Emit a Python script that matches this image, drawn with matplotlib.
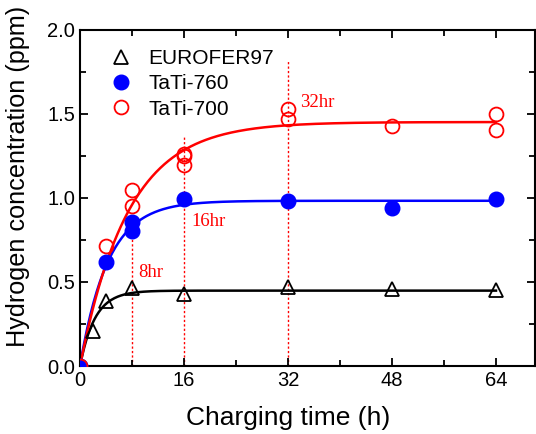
import numpy as np
from matplotlib import pyplot as plt

plt.rcParams['font.family'] = ['Liberation Sans', 'DejaVu Sans']

# measured hydrogen content vs charging time
t_euro = [2, 4, 8, 16, 32, 48, 64]
h_euro = [0.21, 0.385, 0.465, 0.427, 0.47, 0.458, 0.45]

t_760 = [0, 4, 8, 8, 16, 32, 48, 64]
h_760 = [0.0, 0.616, 0.80, 0.855, 0.99, 0.983, 0.937, 0.995]

t_700 = [0, 4, 8, 8, 16, 16, 16, 32, 32, 48, 64, 64]
h_700 = [0.0, 0.716, 0.953, 1.048, 1.193, 1.247, 1.263, 1.47, 1.527, 1.426, 1.50, 1.40]

# saturation fits: c(t) = c_sat * (1 - exp(-t / tau))
c_sat_euro, tau_euro = 0.448, 2.3
c_sat_760, tau_760 = 0.982, 4.3
c_sat_700, tau_700 = 1.45, 7.4

# saturation markers
mark_t = [8, 16, 32]
mark_top = [0.83, 1.37, 1.82]
mark_txt = ['8hr', '16hr', '32hr']
mark_txt_pos = [(8.9, 0.558), (17.2, 0.856), (33.9, 1.566)]


def fit(t, c_sat, tau):
    return c_sat * (1 - np.exp(-t / tau))


fig = plt.figure(figsize=(5.36, 4.34), dpi=100)
ax = fig.add_axes([80 / 536, 1 - 366 / 434, 455 / 536, (366 - 29.5) / 434])

tt = np.linspace(0, 64, 400)

for x, top in zip(mark_t, mark_top):
    ax.plot([x, x], [0, top], color='red', ls=(0, (1.6, 1.6)), lw=1.0, zorder=1)
for s, (x, y) in zip(mark_txt, mark_txt_pos):
    ax.text(x, y, s, color='red', fontsize=13.5, family='Liberation Serif',
            va='center', ha='left')

ax.plot(tt, fit(tt, c_sat_euro, tau_euro), color='black', lw=1.8, zorder=2)
ax.plot(tt, fit(tt, c_sat_760, tau_760), color='blue', lw=1.8, zorder=2)
ax.plot(tt, fit(tt, c_sat_700, tau_700), color='red', lw=1.8, zorder=2)

ax.plot(t_euro, h_euro, ls='none', marker='^', ms=10.5, mfc='none', mec='black',
        mew=1.3, label='EUROFER97', zorder=3)
ax.plot(t_760, h_760, ls='none', marker='o', ms=10.5, mfc='blue', mec='blue',
        label='TaTi-760', zorder=3)
ax.plot(t_700, h_700, ls='none', marker='o', ms=10, mfc='none', mec='red',
        mew=1.3, label='TaTi-700', zorder=4)

ax.set_xlim(0, 70)
ax.set_ylim(0, 2.0)
ax.set_xticks([0, 16, 32, 48, 64])
ax.set_xticks([8, 24, 40, 56], minor=True)
ax.set_yticks([0, 0.5, 1.0, 1.5, 2.0])
ax.set_yticks([0.25, 0.75, 1.25, 1.75], minor=True)
ax.yaxis.set_major_formatter(plt.FormatStrFormatter('%.1f'))
ax.tick_params(which='both', direction='in', top=True, right=True, width=1.3,
               labelsize=14.5)
ax.tick_params(which='major', length=6)
ax.tick_params(which='minor', length=4)
for sp in ax.spines.values():
    sp.set_linewidth(1.5)

ax.set_xlabel('Charging time (h)', fontsize=19)
ax.xaxis.set_label_coords(32 / 70, -0.12, transform=ax.transAxes)
ax.xaxis.label.set_va('top')
ax.set_ylabel('Hydrogen concentration (ppm)', fontsize=18.2)
ax.yaxis.set_label_coords(-0.11, 0.5626, transform=ax.transAxes)

ax.legend(loc='upper left', bbox_to_anchor=(0.0433, 0.9667), frameon=False,
          fontsize=15, handletextpad=0.75, labelspacing=0.3, borderaxespad=0,
          handlelength=1.2)

fig.savefig('out.png', dpi=100)
